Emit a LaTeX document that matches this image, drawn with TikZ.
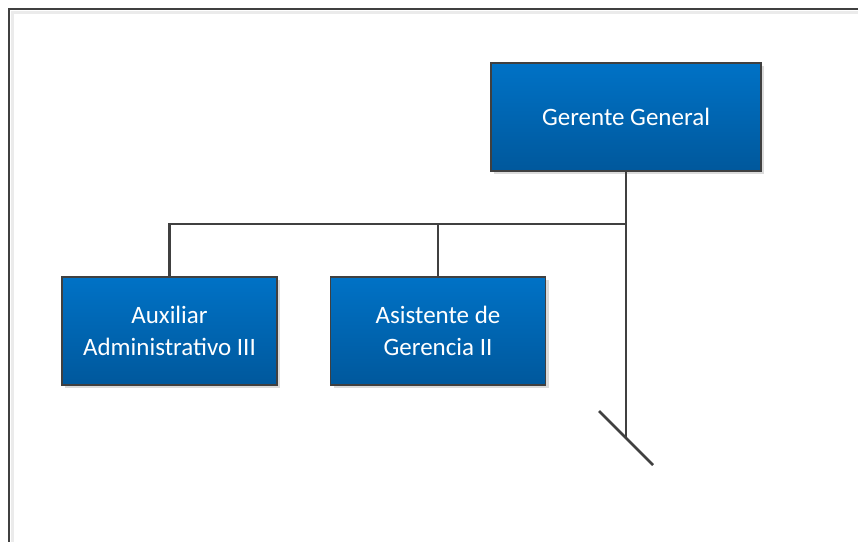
\documentclass[tikz,border=0pt]{standalone}
\usepackage{fontspec}
\setmainfont{Carlito}
\usetikzlibrary{shadows}
\definecolor{boxtop}{RGB}{0,114,198}
\definecolor{boxbot}{RGB}{0,88,156}
\definecolor{edge}{RGB}{64,64,64}
\definecolor{shade}{RGB}{205,205,205}
\begin{document}
\begin{tikzpicture}[x=1pt,y=-1pt,
  orgbox/.style={draw=edge, line width=1.8pt, top color=boxtop, bottom color=boxbot,
    minimum width=270pt, minimum height=108pt, text=white, align=center,
    font=\fontsize{25}{31.5}\selectfont, inner sep=0pt,
    drop shadow={shadow xshift=3pt, shadow yshift=-3pt, fill=shade, opacity=0.7}},
  smallbox/.style={orgbox, minimum width=215pt},
  conn/.style={draw=edge, line width=2.6pt}]
\clip (0,0) rectangle (858,541);
\fill[white] (0,0) rectangle (858,541);
% frame
\draw[shade!40, line width=3pt] (12.5,560) -- (12.5,12.5) -- (880,12.5);
\draw[edge, line width=2.4pt] (9,560) -- (9,9) -- (880,9);
% nodes
\node[orgbox] (gg) at (626,117) {Gerente General};
\node[smallbox] (aux) at (169.5,331) {Auxiliar\\Administrativo III};
\node[smallbox] (asis) at (438,331) {Asistente de\\Gerencia II};
% connector points
\coordinate (bus) at (626,224);
\coordinate (tail) at (626,437);
\coordinate (s1) at (599,411);
\coordinate (s2) at (653,465);
\draw[conn] (gg.south) -- (tail);
\draw[conn] (aux.north) |- (bus);
\draw[conn] (asis.north) -- (asis.north |- bus);
\draw[conn] (s1) -- (s2);
\end{tikzpicture}
\end{document}
